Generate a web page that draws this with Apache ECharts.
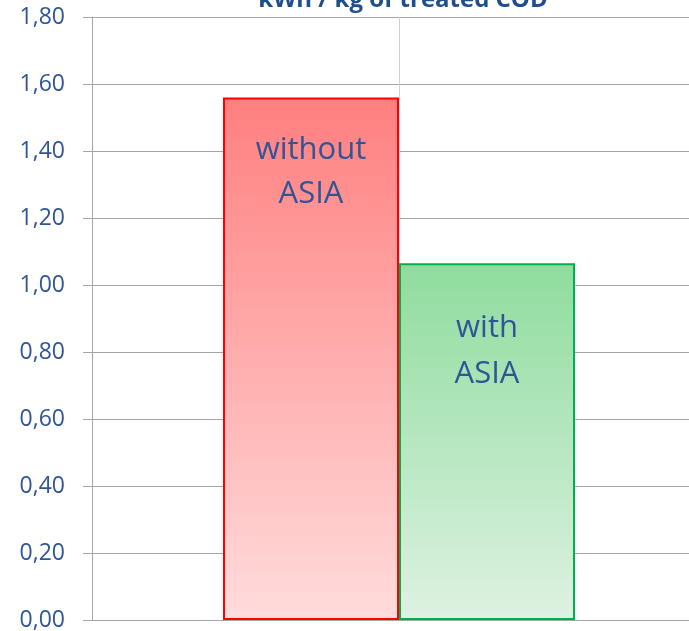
<!DOCTYPE html>
<html>
<head>
<meta charset="utf-8">
<script src="https://cdn.jsdelivr.net/npm/echarts@6/dist/echarts.min.js"></script>
<style>html,body{margin:0;padding:0;background:#fff}#c{width:689px;height:631px}</style>
</head>
<body>
<div id="c"></div>
<script>
var titleText = 'kWh / kg of treated COD';
var categories = [''];
var seriesNames = ['without ASIA', 'with ASIA'];
var valuesWithout = [1.56];
var valuesWith = [1.065];
var yTicks = [0, 0.2, 0.4, 0.6, 0.8, 1.0, 1.2, 1.4, 1.6, 1.8];

var chart = echarts.init(document.getElementById('c'));
var textColor = '#2f5597';
var font = '"Open Sans", "Noto Sans", sans-serif';
function grad(top, bottom) {
  return new echarts.graphic.LinearGradient(0, 0, 0, 1, [
    {offset: 0, color: top}, {offset: 1, color: bottom}
  ]);
}
chart.setOption({
  animation: false,
  title: {
    text: titleText,
    left: 398, textAlign: 'center',
    top: -17,
    textStyle: {color: '#1f4e8c', fontSize: 24, fontWeight: 'bold', fontFamily: font}
  },
  grid: {left: 92, top: 17, bottom: 11, width: 614, containLabel: false, outerBoundsMode: 'none'},
  xAxis: [{
    type: 'category', data: categories,
    axisLine: {show: true, lineStyle: {color: '#a6a6a6', width: 1}},
    axisTick: {show: false}, axisLabel: {show: false}, splitLine: {show: false}
  }, {
    type: 'value', min: 0, max: 2, interval: 1, position: 'top',
    axisLine: {show: false}, axisTick: {show: false}, axisLabel: {show: false},
    splitLine: {show: true, lineStyle: {color: '#d0d0d0', width: 1}}
  }],
  yAxis: {
    type: 'value', min: yTicks[0], max: yTicks[yTicks.length - 1], interval: 0.2,
    axisLine: {show: true, lineStyle: {color: '#a6a6a6', width: 1}},
    axisTick: {show: true, length: 9, lineStyle: {color: '#a6a6a6'}},
    axisLabel: {
      color: textColor, fontSize: 23, fontFamily: font, margin: 27,
      formatter: function (v) { return v.toFixed(2).replace('.', ','); }
    },
    splitLine: {show: true, lineStyle: {color: '#a6a6a6', width: 1}}
  },
  series: [{
    name: seriesNames[0], type: 'bar', data: valuesWithout, xAxisIndex: 0,
    barWidth: 176, barGap: '0%',
    itemStyle: {color: grad('#ff7f7f', '#ffdcdc'), borderColor: '#ff0000', borderWidth: 2},
    label: {
      show: true, position: ['50%', 31], align: 'center', verticalAlign: 'top',
      formatter: function (p) { return p.seriesName.replace(' ', '\n'); },
      color: textColor, fontSize: 31, lineHeight: 44, fontFamily: font
    }
  }, {
    name: seriesNames[1], type: 'bar', data: valuesWith, xAxisIndex: 0,
    barWidth: 176, barGap: '0%',
    itemStyle: {color: grad('#8fdc9e', '#def2e2'), borderColor: '#00b050', borderWidth: 2},
    label: {
      show: true, position: ['50%', 42], align: 'center', verticalAlign: 'top',
      formatter: function (p) { return p.seriesName.replace(' ', '\n'); },
      color: textColor, fontSize: 31, lineHeight: 46, fontFamily: font
    }
  }]
});
</script>
</body>
</html>
